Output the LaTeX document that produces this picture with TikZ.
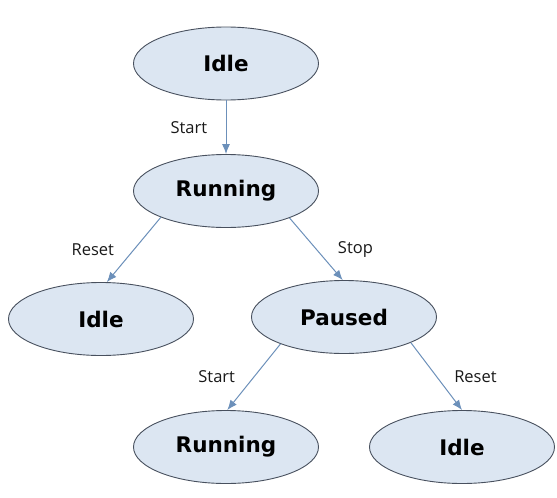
\documentclass[tikz,border=0pt]{standalone}
\usepackage{fontspec}
\setmainfont{DejaVu Sans}
\newfontfamily\edgefont{Open Sans}
\usetikzlibrary{shapes.geometric,arrows.meta}
\definecolor{stateFill}{RGB}{220,230,242}
\definecolor{stateLine}{RGB}{72,80,94}
\definecolor{edgeBlue}{RGB}{108,144,186}

\begin{document}
\begin{tikzpicture}[x=1pt,y=-1pt,
    state/.style={ellipse,draw=stateLine,fill=stateFill,line width=0.9pt,
      minimum width=185pt,minimum height=73pt,inner sep=0pt,
      font=\fontsize{21.5}{25}\selectfont\bfseries,text=black},
    trans/.style={draw=edgeBlue,line width=1pt,-{Latex[length=10pt,width=8pt]}},
    lbl/.style={font=\edgefont\fontsize{16.5}{19}\selectfont,text=black!90}]
  \useasboundingbox (0,0) rectangle (557,498);
  % states
  \node[state] (idleA) at (226,63.5) {Idle};
  \node[state] (runA) at (226,191) {Running};
  \node[state] (idleB) at (101,319) {Idle};
  \node[state] (paused) at (344,317) {Paused};
  \node[state] (runB) at (226,447) {Running};
  \node[state] (idleC) at (462,447) {Idle};
  % transitions
  \draw[trans] (idleA.south) -- node[lbl,left=15pt]{Start} (runA.north);
  \draw[trans] (runA.202) -- node[lbl,left=16pt]{Reset} (idleB.81);
  \draw[trans] (runA.337) -- node[lbl,right=18pt]{Stop} (paused.92);
  \draw[trans] (paused.203) -- node[lbl,left=15pt]{Start} (runB.88);
  \draw[trans] (paused.339) -- node[lbl,right=14pt]{Reset} (idleC.90);
\end{tikzpicture}
\end{document}
